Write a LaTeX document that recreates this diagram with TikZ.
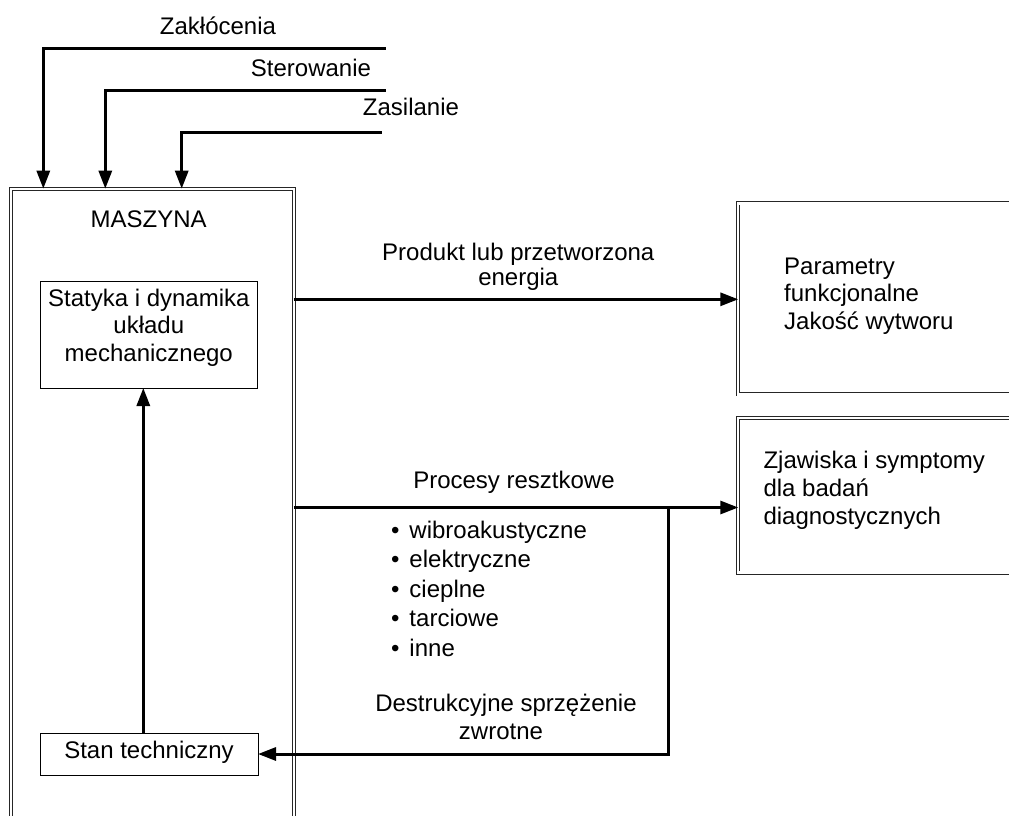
\documentclass[tikz,border=0pt]{standalone}
\usepackage{fontspec}
\setmainfont{Liberation Sans}
\usetikzlibrary{arrows.meta}
\begin{document}
\begin{tikzpicture}[x=1pt,y=-1pt,
  txt/.style={inner sep=0pt, anchor=base, font=\fontsize{24}{29.5}\selectfont},
  txtl/.style={txt, anchor=base west},
  thinbox/.style={draw, line width=0.9pt, inner sep=0pt, outer sep=0pt, anchor=north west},
  dblbox/.style={draw=black!85, double, double distance=2.2pt, line width=0.9pt, inner sep=0pt, outer sep=0pt, anchor=north west},
  flow/.style={line width=3pt, -{Triangle[length=18pt,width=13pt]}},
]
\useasboundingbox (0,0) rectangle (1009,816);
\clip (0,0) rectangle (1009,816);

% machine frame and the two result frames (they run past the page edge)
\node[dblbox, minimum width=282.9pt, minimum height=800pt] (masz) at (10.8,188.7) {};
\node[dblbox, minimum width=400pt, minimum height=191pt] (par) at (738.3,203.4) {};
\node[dblbox, minimum width=400pt, minimum height=154.5pt] (zj) at (738.3,418) {};

% inner blocks
\node[thinbox, minimum width=217.7pt, minimum height=107pt] (stat) at (40,281) {};
\node[thinbox, minimum width=218pt, minimum height=42pt] (stan) at (40,733) {};

% inputs
\coordinate (zin) at (385.7,48.3);
\coordinate (sin) at (385.7,90);
\coordinate (pin) at (381.7,132.7);
\draw[flow] (zin) -| (masz.north -| 43.3,0);
\draw[flow] (sin) -| (masz.north -| 105.3,0);
\draw[flow] (pin) -| (masz.north -| 181.7,0);
\node[txt] (lz) at (218,34.3) {Zakłócenia};
\node[txt] (ls) at (311,76.7) {Sterowanie};
\node[txt] (lp) at (411,115) {Zasilanie};

% machine contents
\node[txt] (lm) at (148.7,227.7) {MASZYNA};
\node[txt] (st1) at (148.8,306) {Statyka i dynamika};
\node[txt] (st2) at (148.8,333.5) {układu};
\node[txt] (st3) at (148.8,361) {mechanicznego};
\node[txt] (sn) at (149,758.3) {Stan techniczny};
\draw[flow] (stan.north -| 143.3,0) -- (stat.south -| 143.3,0);

% outputs
\draw[flow] (masz.east |- 0,299.3) -- (par.west |- 0,299.3);
\node[txt] (pr1) at (518.3,260) {Produkt lub przetworzona};
\node[txt] (pr2) at (518.3,285.7) {energia};
\node[txtl] (pa1) at (784,274.3) {Parametry};
\node[txtl] (pa2) at (784,301.7) {funkcjonalne};
\node[txtl] (pa3) at (784,329) {Jakość wytworu};

\draw[flow] (masz.east |- 0,507.5) -- (zj.west |- 0,507.5);
\node[txt] (rz) at (514,488) {Procesy resztkowe};
\node[txtl] (zj1) at (763.3,468.3) {Zjawiska i symptomy};
\node[txtl] (zj2) at (763.3,496.7) {dla badań};
\node[txtl] (zj3) at (763.3,524.3) {diagnostycznych};

% kinds of residual processes
\node[txtl] (b1) at (391,538.3) {\makebox[18.3pt][l]{•}wibroakustyczne};
\node[txtl] (b2) at (391,567.6) {\makebox[18.3pt][l]{•}elektryczne};
\node[txtl] (b3) at (391,597) {\makebox[18.3pt][l]{•}cieplne};
\node[txtl] (b4) at (391,626.5) {\makebox[18.3pt][l]{•}tarciowe};
\node[txtl] (b5) at (391,656) {\makebox[18.3pt][l]{•}inne};

% destructive feedback loop
\coordinate (fb) at (668,507.5);
\draw[flow] (fb) |- (stan.east);
\node[txt] (d1) at (506,711.7) {Destrukcyjne sprzężenie};
\node[txt] (d2) at (501,739) {zwrotne};
\end{tikzpicture}
\end{document}
